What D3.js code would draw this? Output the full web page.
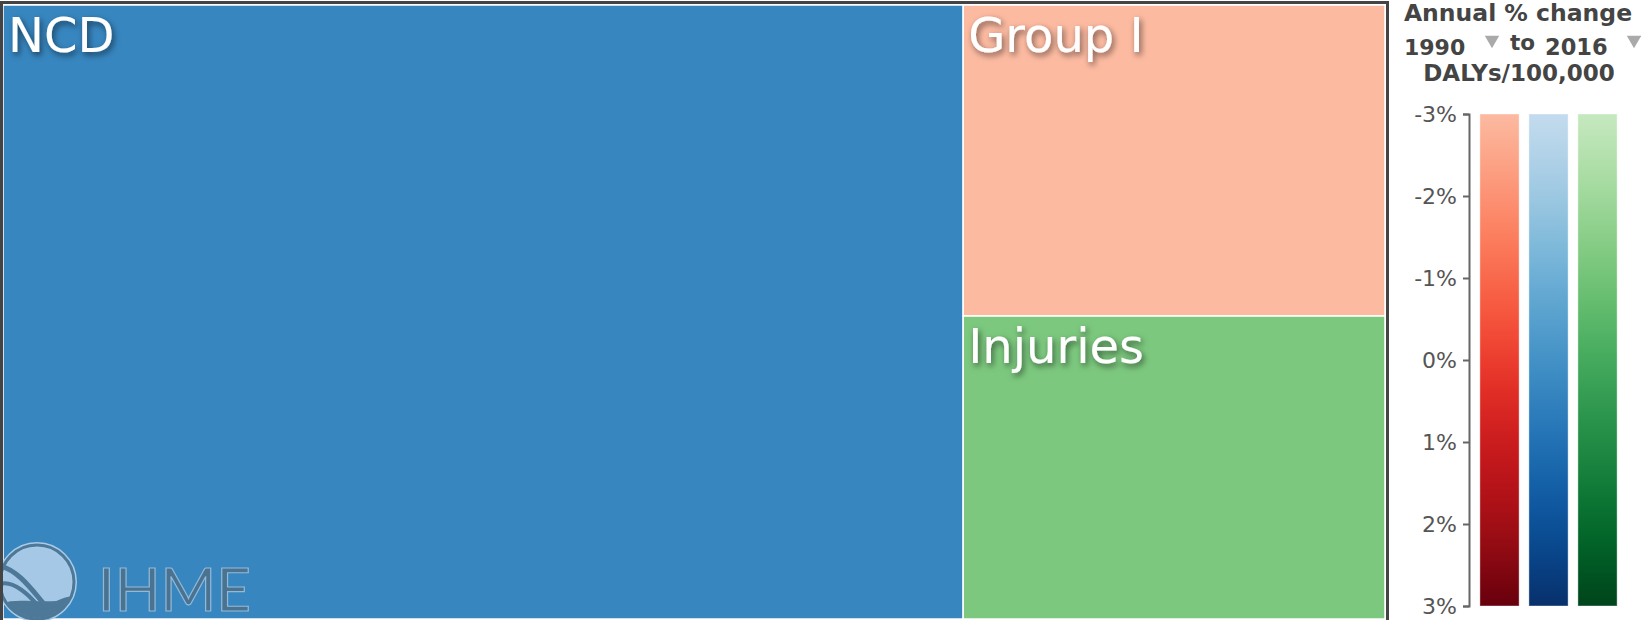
<!DOCTYPE html>
<html>
<head>
<meta charset="utf-8">
<script src="https://cdn.jsdelivr.net/npm/d3@7"></script>
<style>
  body { margin: 0; background: #fff; }
  svg { display: block; font-family: 'DejaVu Sans', sans-serif; }
</style>
</head>
<body>
<div id="chart"></div>
<script>
// cause groups, DALYs per 100,000 (2016) and annual % change 1990-2016
const causes = ['NCD', 'Group I', 'Injuries']
const dalyRates = [20850, 4640, 4520]
const annualChange = [0.35, -3.0, -1.2]
const palettes = { 'NCD': d3.interpolateBlues, 'Group I': d3.interpolateReds, 'Injuries': d3.interpolateGreens }
const legendOrder = ['Group I', 'NCD', 'Injuries']
const legendTicks = [-3, -2, -1, 0, 1, 2, 3]

const width = 1641
const height = 620

const svg = d3.select('#chart').append('svg')
  .attr('width', width)
  .attr('height', height)

const defs = svg.append('defs')
const shadow = defs.append('filter').attr('id', 'shadow')
  .attr('x', '-20%').attr('y', '-20%').attr('width', '140%').attr('height', '150%')
shadow.append('feDropShadow')
  .attr('dx', 2).attr('dy', 3).attr('stdDeviation', 3)
  .attr('flood-color', '#000').attr('flood-opacity', 0.55)

// change -> position along the colour ramp
const t = d3.scaleLinear().domain([-3, 3]).range([0.25, 1]).clamp(true)
const colorOf = (name, v) => palettes[name](t(v))

// ---- treemap ----
const frame = { x: 3, y: 5, w: 1382, h: 614 }

const root = d3.hierarchy({
  children: causes.map((c, i) => ({ name: c, value: dalyRates[i], change: annualChange[i] }))
})
  .sum(d => d.value || 0)
  .sort((a, b) => b.value - a.value)

d3.treemap()
  .tile(d3.treemapBinary)
  .size([frame.w, frame.h])(root)

const tm = svg.append('g').attr('transform', `translate(${frame.x},${frame.y})`)

const cell = tm.selectAll('g')
  .data(root.leaves()).enter()
  .append('g')
  .attr('transform', d => `translate(${d.x0},${d.y0})`)

cell.append('rect')
  .attr('width', d => d.x1 - d.x0)
  .attr('height', d => d.y1 - d.y0)
  .attr('fill', d => colorOf(d.data.name, d.data.change))
  .attr('stroke', '#fff')
  .attr('stroke-width', 1.5)

cell.append('text')
  .attr('x', 5)
  .attr('y', 47)
  .attr('fill', '#fff')
  .attr('font-size', 48)
  .attr('filter', 'url(#shadow)')
  .text(d => d.data.name)

// IHME watermark
const logo = svg.append('g')
defs.append('clipPath').attr('id', 'logoclip')
  .append('circle').attr('cx', 37).attr('cy', 582).attr('r', 36)
logo.append('circle')
  .attr('cx', 37).attr('cy', 582).attr('r', 37)
  .attr('fill', '#a4c8e5')
  .attr('stroke', '#a9cbe6').attr('stroke-width', 6)
logo.append('circle')
  .attr('cx', 37).attr('cy', 582).attr('r', 37)
  .attr('fill', 'none')
  .attr('stroke', '#4d7898').attr('stroke-width', 3)
const waves = logo.append('g').attr('clip-path', 'url(#logoclip)')
waves.append('path')
  .attr('d', 'M0,604 C20,596 40,606 76,598 L76,625 L0,625 Z')
  .attr('fill', '#4d7898')
waves.append('path')
  .attr('d', 'M0,566 C18,570 32,590 44,604 C48,610 56,612 66,608')
  .attr('fill', 'none').attr('stroke', '#4d7898').attr('stroke-width', 5)
waves.append('path')
  .attr('d', 'M0,584 C14,580 30,596 38,606 C44,612 58,600 72,598')
  .attr('fill', 'none').attr('stroke', '#4d7898').attr('stroke-width', 4)
logo.append('text')
  .attr('x', 98).attr('y', 611)
  .attr('font-family', 'Lato, sans-serif')
  .attr('font-weight', 400)
  .attr('font-size', 60)
  .attr('fill', '#4a7391')
  .attr('stroke', '#93b9d7')
  .attr('stroke-width', 1.2)
  .text('IHME')

// outer frame
svg.append('rect')
  .attr('x', 1.5).attr('y', 2.5)
  .attr('width', 1386).attr('height', 622)
  .attr('fill', 'none')
  .attr('stroke', '#444')
  .attr('stroke-width', 3)

// ---- legend ----
const lg = svg.append('g').attr('fill', '#444').attr('font-weight', 'bold')

lg.append('text')
  .attr('x', 1518).attr('y', 21)
  .attr('text-anchor', 'middle')
  .attr('font-size', 23.5)
  .text('Annual % change')

lg.append('text').attr('x', 1404).attr('y', 55).attr('font-size', 22).text('1990')
lg.append('text').attr('x', 1510).attr('y', 50).attr('font-size', 21.5).text('to')
lg.append('text').attr('x', 1545).attr('y', 55).attr('font-size', 22.5).text('2016')

const arrow = d3.symbol().type(d3.symbolTriangle).size(90)
;[1492, 1634].forEach(cx => {
  lg.append('path')
    .attr('d', arrow())
    .attr('transform', `translate(${cx},40) rotate(180)`)
    .attr('fill', '#aaa')
})

lg.append('text')
  .attr('x', 1519).attr('y', 81)
  .attr('text-anchor', 'middle')
  .attr('font-size', 23)
  .text('DALYs/100,000')

const y = d3.scaleLinear().domain([-3, 3]).range([114, 606])

const xb = d3.scaleBand()
  .domain(legendOrder)
  .range([1475, 1622])
  .paddingInner(0.2)
  .paddingOuter(0.1)

legendOrder.forEach(name => {
  const g = defs.append('linearGradient')
    .attr('id', 'grad-' + name.replace(/\s/g, ''))
    .attr('x1', 0).attr('x2', 0).attr('y1', 0).attr('y2', 1)
  d3.range(0, 1.0001, 0.05).forEach(f => {
    const v = -3 + 6 * f
    g.append('stop')
      .attr('offset', f)
      .attr('stop-color', colorOf(name, v))
  })
})

svg.append('g')
  .selectAll('rect')
  .data(legendOrder).enter()
  .append('rect')
  .attr('x', d => xb(d))
  .attr('y', y(-3))
  .attr('width', xb.bandwidth())
  .attr('height', y(3) - y(-3))
  .attr('fill', d => `url(#grad-${d.replace(/\s/g, '')})`)
  .attr('stroke', '#fff')
  .attr('stroke-opacity', 0.4)

const axis = svg.append('g')
  .attr('transform', 'translate(1469,0)')
  .call(d3.axisLeft(y).tickValues(legendTicks).tickSize(6).tickPadding(6).tickFormat(d => d + '%'))

axis.select('.domain').attr('stroke', '#666').attr('stroke-width', 2)
axis.selectAll('.tick line').attr('stroke', '#666').attr('stroke-width', 2)
axis.selectAll('.tick text')
  .attr('font-size', 22)
  .attr('font-family', "'DejaVu Sans', sans-serif")
  .attr('fill', '#555')
</script>
</body>
</html>
